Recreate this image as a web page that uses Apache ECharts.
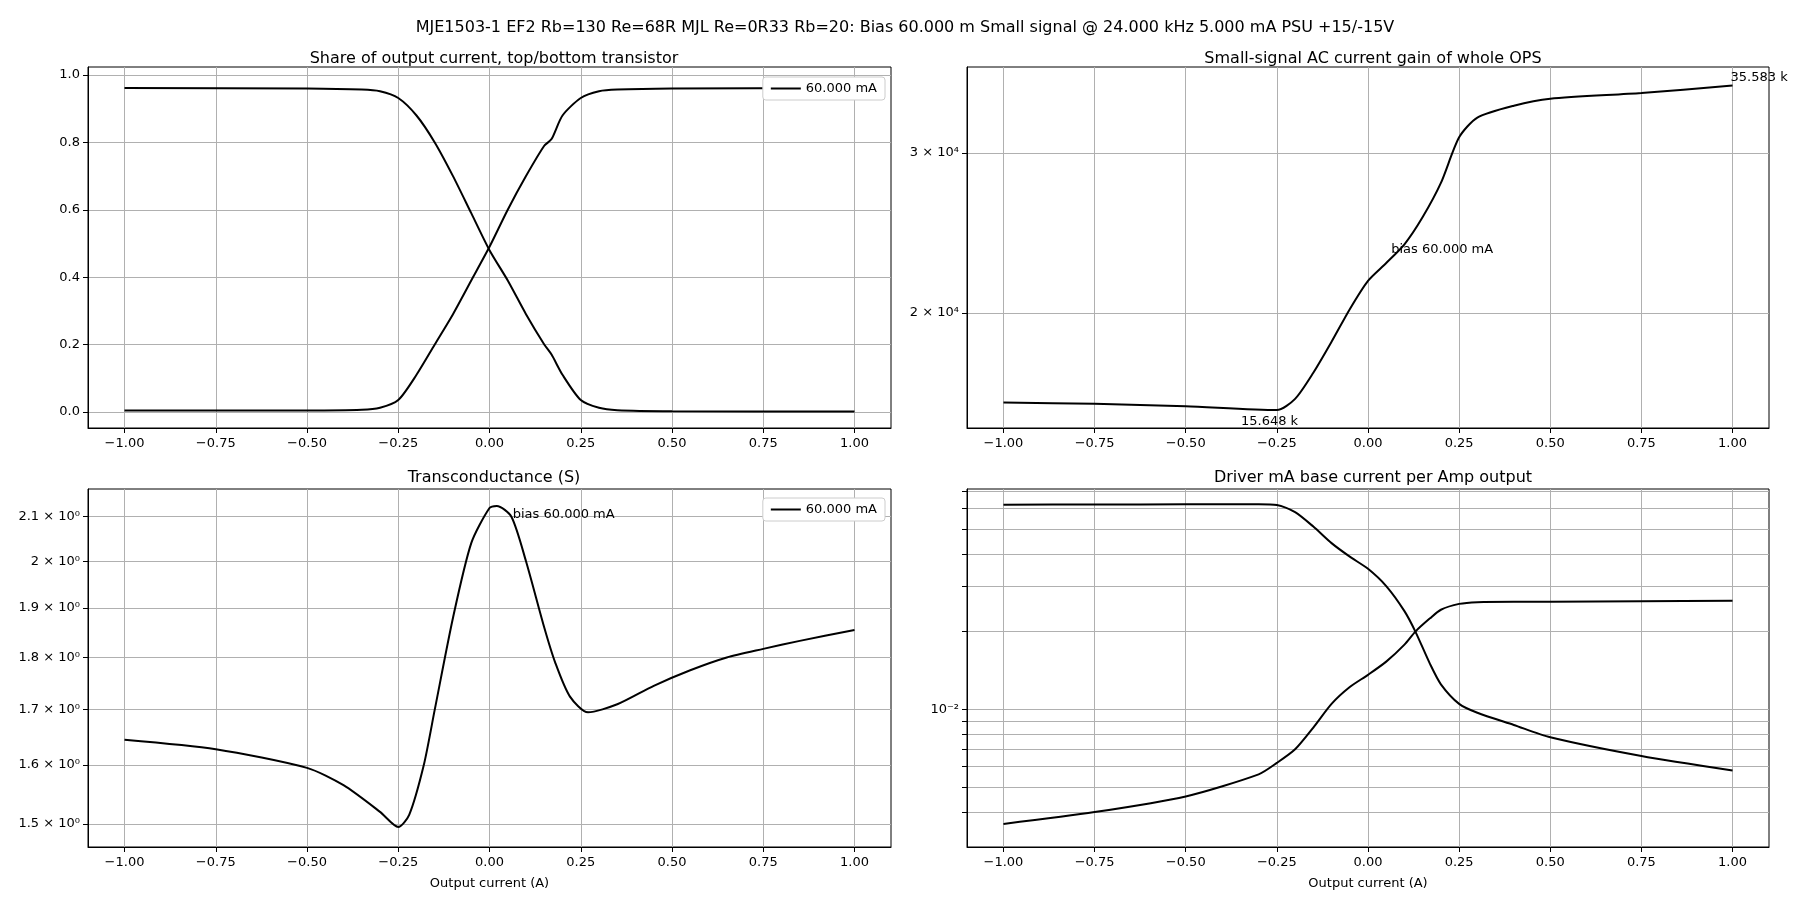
<!DOCTYPE html>
<html>
<head>
<meta charset="utf-8">
<title>OPS</title>
<script src="https://cdn.jsdelivr.net/npm/echarts@6/dist/echarts.min.js"></script>
<style>
  body{margin:0;background:#fff;}
  #chart{width:1800px;height:900px;}
</style>
</head>
<body>
<div id="chart"></div>
<script>
// x ticks shared by all panels
var xTicks = [-1, -0.75, -0.5, -0.25, 0, 0.25, 0.5, 0.75, 1];

// share of output current (top / bottom transistor)
var shareX = [-1, -0.5, -0.35, -0.3, -0.25, -0.2, -0.15, -0.1, -0.05, 0, 0.05, 0.1, 0.15, 0.17, 0.2, 0.25, 0.3, 0.35, 0.5, 1];
var shareTop = [0.962, 0.96, 0.957, 0.952, 0.932, 0.88, 0.80, 0.70, 0.59, 0.48, 0.39, 0.29, 0.20, 0.17, 0.11, 0.035, 0.012, 0.005, 0.002, 0.001];
var shareBot = [0.004, 0.004, 0.006, 0.012, 0.035, 0.11, 0.20, 0.29, 0.39, 0.49, 0.60, 0.70, 0.79, 0.81, 0.88, 0.932, 0.952, 0.957, 0.96, 0.962];

// small signal current gain
var gainX = [-1, -0.75, -0.5, -0.25, -0.2, -0.15, -0.1, -0.05, 0, 0.05, 0.1, 0.15, 0.2, 0.25, 0.3, 0.4, 0.5, 0.75, 1];
var gain = [15950, 15900, 15800, 15648, 16100, 17200, 18600, 20200, 21700, 22700, 23800, 25500, 27800, 31200, 32800, 33800, 34400, 34900, 35583];

// transconductance
var gmX = [-1, -0.75, -0.5, -0.4, -0.3, -0.25, -0.22, -0.18, -0.15, -0.1, -0.05, 0, 0.02, 0.06, 0.1, 0.15, 0.18, 0.22, 0.27, 0.35, 0.45, 0.55, 0.65, 0.75, 0.85, 1];
var gm = [1.645, 1.628, 1.595, 1.565, 1.52, 1.495, 1.515, 1.6, 1.7, 1.88, 2.04, 2.12, 2.125, 2.1, 2.0, 1.86, 1.79, 1.725, 1.695, 1.71, 1.745, 1.775, 1.8, 1.817, 1.833, 1.855];

// driver base current per amp
var drvX = [-1, -0.75, -0.5, -0.3, -0.25, -0.2, -0.15, -0.1, -0.05, 0, 0.05, 0.1, 0.13, 0.17, 0.2, 0.25, 0.3, 0.4, 0.5, 0.75, 1];
var drvTop = [0.0620, 0.0621, 0.0622, 0.0622, 0.0618, 0.058, 0.051, 0.044, 0.039, 0.035, 0.030, 0.024, 0.020, 0.015, 0.0125, 0.0105, 0.0097, 0.0087, 0.0078, 0.0066, 0.0058];
var drvBot = [0.0036, 0.0040, 0.0046, 0.0056, 0.0062, 0.0070, 0.0085, 0.0105, 0.0122, 0.0136, 0.0153, 0.0178, 0.020, 0.0225, 0.0243, 0.0256, 0.026, 0.0261, 0.0261, 0.0262, 0.0263];

var gainTicks = [20000, 30000];
var gmTicks = [1.5, 1.6, 1.7, 1.8, 1.9, 2.0, 2.1];
var drvTicks = [0.004, 0.005, 0.006, 0.007, 0.008, 0.009, 0.01, 0.02, 0.03, 0.04, 0.05, 0.06, 0.07];

var L = Math.log10;
function pairs(xs, ys, f) {
  return xs.map(function (x, i) { return [x, f ? f(ys[i]) : ys[i]]; });
}
function fmtX(v) { return (v < 0 ? '\u2212' : '') + Math.abs(v).toFixed(2); }

var font = 'DejaVu Sans';
var grids = [
  {left: 88, top: 67, width: 803, height: 361},
  {left: 967, top: 67, width: 802, height: 361},
  {left: 88, top: 489, width: 803, height: 358},
  {left: 967, top: 489, width: 802, height: 358}
].map(function (g) { return Object.assign(g, {show: true, borderColor: '#000', borderWidth: 1, backgroundColor: 'transparent'}); });
var gridLine = {show: true, lineStyle: {color: '#b0b0b0', width: 1}};
var frame = {show: true, onZero: false, lineStyle: {color: '#000'}};

var xAxes = grids.map(function (g, i) {
  return {
    type: 'value', gridIndex: i, min: -1.1, max: 1.1,
    name: i >= 2 ? 'Output current (A)' : '', nameLocation: 'middle', nameGap: 30,
    nameTextStyle: {color: '#000', fontSize: 13, fontFamily: font},
    axisLine: frame,
    axisTick: {show: true, customValues: xTicks, length: 5, lineStyle: {color: '#000'}},
    axisLabel: {customValues: xTicks, formatter: fmtX, color: '#000', fontSize: 13, fontFamily: font, margin: 9},
    splitLine: gridLine
  };
});

var yBase = {
  type: 'value', axisLine: frame,
  axisLabel: {color: '#000', fontSize: 13, fontFamily: font},
  splitLine: gridLine
};
function yAx(i, min, max, ticks, fmt, tickLabels) {
  var a = JSON.parse(JSON.stringify(yBase));
  a.gridIndex = i; a.min = min; a.max = max;
  a.axisTick = {show: true, customValues: ticks, length: 5, lineStyle: {color: '#000'}};
  a.axisLabel.customValues = tickLabels || ticks;
  a.axisLabel.formatter = fmt;
  return a;
}
var supMap = {'-': '\u207b', '0': '\u2070', '1': '\u00b9', '2': '\u00b2', '4': '\u2074'};
function sup(s) { return s.split('').map(function (c) { return supMap[c]; }).join(''); }

var yAxes = [
  yAx(0, -0.048, 1.024, [0, 0.2, 0.4, 0.6, 0.8, 1.0], function (v) { return v.toFixed(1); }),
  yAx(1, L(14955), L(37278), gainTicks.map(L), function (v) {
    return Math.round(Math.pow(10, v) / 1e4) + ' \u00d7 10' + sup('4');
  }),
  yAx(2, L(1.4626), L(2.1647), gmTicks.map(L), function (v) {
    var m = Math.pow(10, v);
    return (Math.abs(m - 2) < 1e-6 ? '2' : m.toFixed(1)) + ' \u00d7 10' + sup('0');
  }),
  yAx(3, L(0.00293), L(0.0713), drvTicks.map(L), function () { return '10' + sup('-2'); }, [L(0.01)])
];

var line = {type: 'line', smooth: 0.25, showSymbol: false, lineStyle: {color: '#000', width: 2}, itemStyle: {color: '#000'}};
function S(o) { return Object.assign({}, line, o); }
var annLabel = {show: true, color: '#000', fontSize: 13, fontFamily: font};
function ann(coord, text, pos) {
  return {coord: coord, symbolSize: 0, label: Object.assign({}, annLabel, {formatter: text, position: pos || 'right'})};
}
var tStyle = {fontSize: 16, fontWeight: 'normal', color: '#000', fontFamily: font};

var option = {
  animation: false,
  backgroundColor: '#fff',
  textStyle: {fontFamily: font},
  title: [
    {text: 'MJE1503-1 EF2 Rb=130 Re=68R MJL Re=0R33 Rb=20: Bias 60.000 m Small signal @ 24.000 kHz 5.000 mA PSU +15/-15V', left: 900, top: 15, textAlign: 'center', textStyle: tStyle},
    {text: 'Share of output current, top/bottom transistor', left: 489, top: 46, textAlign: 'center', textStyle: tStyle},
    {text: 'Small-signal AC current gain of whole OPS', left: 1368, top: 46, textAlign: 'center', textStyle: tStyle},
    {text: 'Transconductance (S)', left: 489, top: 465, textAlign: 'center', textStyle: tStyle},
    {text: 'Driver mA base current per Amp output', left: 1368, top: 465, textAlign: 'center', textStyle: tStyle}
  ],
  legend: [
    {data: ['60.000 mA'], right: 915, top: 77, itemWidth: 30, itemHeight: 2, icon: 'rect',
     backgroundColor: '#fff', borderColor: '#ccc', borderWidth: 1, borderRadius: 3, padding: [5, 8],
     textStyle: {fontSize: 13, color: '#000'}},
    {data: ['60.000 mA'], right: 915, top: 498, itemWidth: 30, itemHeight: 2, icon: 'rect',
     backgroundColor: '#fff', borderColor: '#ccc', borderWidth: 1, borderRadius: 3, padding: [5, 8],
     textStyle: {fontSize: 13, color: '#000'}}
  ],
  grid: grids,
  xAxis: xAxes,
  yAxis: yAxes,
  series: [
    S({name: '60.000 mA', xAxisIndex: 0, yAxisIndex: 0, data: pairs(shareX, shareTop)}),
    S({name: '60.000 mA', xAxisIndex: 0, yAxisIndex: 0, data: pairs(shareX, shareBot)}),
    S({name: 'gain', xAxisIndex: 1, yAxisIndex: 1, data: pairs(gainX, gain, L),
       markPoint: {data: [
         ann([1.0, L(35583)], '35.583 k', [-2, -14]),
         ann([-0.27, L(15648)], '15.648 k', 'bottom'),
         ann([0.05, L(23500)], 'bias 60.000 mA', 'right')
       ]}}),
    S({name: '60.000 mA', xAxisIndex: 2, yAxisIndex: 2, data: pairs(gmX, gm, L),
       markPoint: {data: [ann([0.05, L(2.105)], 'bias 60.000 mA', 'right')]}}),
    S({name: 'drvTop', xAxisIndex: 3, yAxisIndex: 3, data: pairs(drvX, drvTop, L)}),
    S({name: 'drvBot', xAxisIndex: 3, yAxisIndex: 3, data: pairs(drvX, drvBot, L)})
  ]
};

var myChart = echarts.init(document.getElementById('chart'));
myChart.setOption(option);
</script>
</body>
</html>
